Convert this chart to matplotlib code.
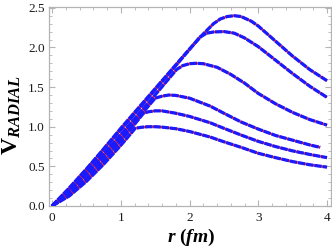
import matplotlib
matplotlib.use("Agg")
import matplotlib.pyplot as plt
from matplotlib.ticker import MultipleLocator

plt.rcParams['font.family'] = ['Liberation Serif', 'DejaVu Serif']
plt.rcParams['mathtext.fontset'] = 'custom'
plt.rcParams['mathtext.rm'] = 'Liberation Serif'
plt.rcParams['mathtext.it'] = 'Liberation Serif:italic'
plt.rcParams['mathtext.bf'] = 'Liberation Serif:bold'
plt.rcParams['mathtext.bfit'] = 'Liberation Serif:italic:bold'

# radial potential curves (r in fm, V)
r1 = [0.0, 0.25, 0.5, 0.75, 1.0, 1.1, 1.21, 1.3, 1.4, 1.5, 1.6, 1.8, 2.0, 2.3, 2.5, 2.75, 3.0, 3.25, 3.5, 3.75, 4.0]
v1 = [0.0, 0.126, 0.31, 0.526, 0.765, 0.866, 0.98, 0.993, 1.0, 1.0, 0.995, 0.975, 0.94, 0.87, 0.81, 0.74, 0.665, 0.61, 0.56, 0.52, 0.49]

r2 = [0.0, 0.25, 0.5, 0.75, 1.0, 1.15, 1.33, 1.4, 1.5, 1.6, 1.8, 2.0, 2.3, 2.5, 2.75, 3.0, 3.25, 3.5, 3.75, 4.0]
v2 = [0.0, 0.145, 0.344, 0.572, 0.82, 0.976, 1.17, 1.188, 1.2, 1.2, 1.17, 1.13, 1.05, 0.98, 0.895, 0.815, 0.75, 0.695, 0.65, 0.61]

r3 = [0.0, 0.25, 0.5, 0.75, 1.0, 1.25, 1.5, 1.6, 1.7, 1.8, 2.0, 2.3, 2.5, 2.75, 3.0, 3.25, 3.5, 3.75, 3.9]
v3 = [0.0, 0.18, 0.393, 0.622, 0.86, 1.107, 1.36, 1.385, 1.4, 1.395, 1.36, 1.26, 1.17, 1.06, 0.97, 0.89, 0.83, 0.77, 0.74]

r4 = [0.0, 0.25, 0.5, 0.75, 1.0, 1.25, 1.5, 1.81, 1.9, 2.0, 2.1, 2.2, 2.4, 2.6, 2.8, 3.0, 3.25, 3.5, 3.75, 4.0]
v4 = [0.0, 0.199, 0.423, 0.658, 0.9, 1.149, 1.402, 1.72, 1.77, 1.795, 1.8, 1.795, 1.75, 1.66, 1.55, 1.42, 1.29, 1.18, 1.09, 1.02]

r5 = [0.0, 0.25, 0.5, 0.75, 1.0, 1.25, 1.5, 1.75, 2.0, 2.15, 2.25, 2.35, 2.5, 2.65, 2.8, 3.0, 3.25, 3.5, 3.75, 4.0]
v5 = [0.0, 0.227, 0.467, 0.712, 0.96, 1.21, 1.465, 1.719, 1.975, 2.13, 2.18, 2.195, 2.2, 2.18, 2.12, 2.01, 1.84, 1.67, 1.51, 1.37]

r6 = [0.0, 0.25, 0.5, 0.75, 1.0, 1.25, 1.5, 1.75, 2.0, 2.2, 2.35, 2.45, 2.55, 2.65, 2.75, 2.9, 3.0, 3.25, 3.5, 3.75, 4.0]
v6 = [0.0, 0.22, 0.46, 0.72, 0.98, 1.23, 1.48, 1.73, 1.98, 2.17, 2.3, 2.36, 2.39, 2.4, 2.39, 2.33, 2.27, 2.08, 1.89, 1.72, 1.58]

curves = [(r1, v1), (r2, v2), (r3, v3), (r4, v4), (r5, v5), (r6, v6)]

xticks = [0, 1, 2, 3, 4]
yticks = [0.0, 0.5, 1.0, 1.5, 2.0, 2.5]

fig = plt.figure(figsize=(3.32, 2.49), dpi=100)
ax = fig.add_axes([49/332, 1 - 206/249, (331 - 49)/332, (206 - 7)/249])

for r, v in curves:
    ax.plot(r, v, color='#ff2020', lw=1.6, solid_capstyle='butt', zorder=2)
    ax.plot(r, v, color='#1a1aff', lw=2.3, dashes=(2.3, 0.3), zorder=3)

ax.set_xlim(-0.044, 4.058)
ax.set_ylim(0, 2.51)
ax.set_xticks(xticks)
ax.set_yticks(yticks)
ax.set_xticklabels([str(t) for t in xticks])
ax.set_yticklabels([f"{t:.1f}" for t in yticks])
ax.xaxis.set_minor_locator(MultipleLocator(0.2))
ax.yaxis.set_minor_locator(MultipleLocator(0.1))
gray = '#b4b4b4'
for s in ax.spines.values():
    s.set_color(gray)
    s.set_linewidth(0.9)
ax.tick_params(which='both', direction='in', top=True, right=True, color=gray,
               labelsize=9.5, labelcolor='#1a1a1a')
ax.tick_params(axis='x', pad=4)
ax.tick_params(axis='y', pad=3)
ax.tick_params(which='major', length=4, width=0.8)
ax.tick_params(which='minor', length=2, width=0.6)

fig.text(191/332, 1 - 237/249, r'$\mathbfit{r}\ \mathbf{(}\mathbfit{fm}\mathbf{)}$',
         fontsize=14, ha='center', va='center')
fig.text(1/332, 1 - 115/249, r'$\mathbf{V}_{\mathbfit{RADIAL}}$',
         fontsize=17, ha='left', va='center', rotation=90)

fig.savefig('out.png', dpi=100)
